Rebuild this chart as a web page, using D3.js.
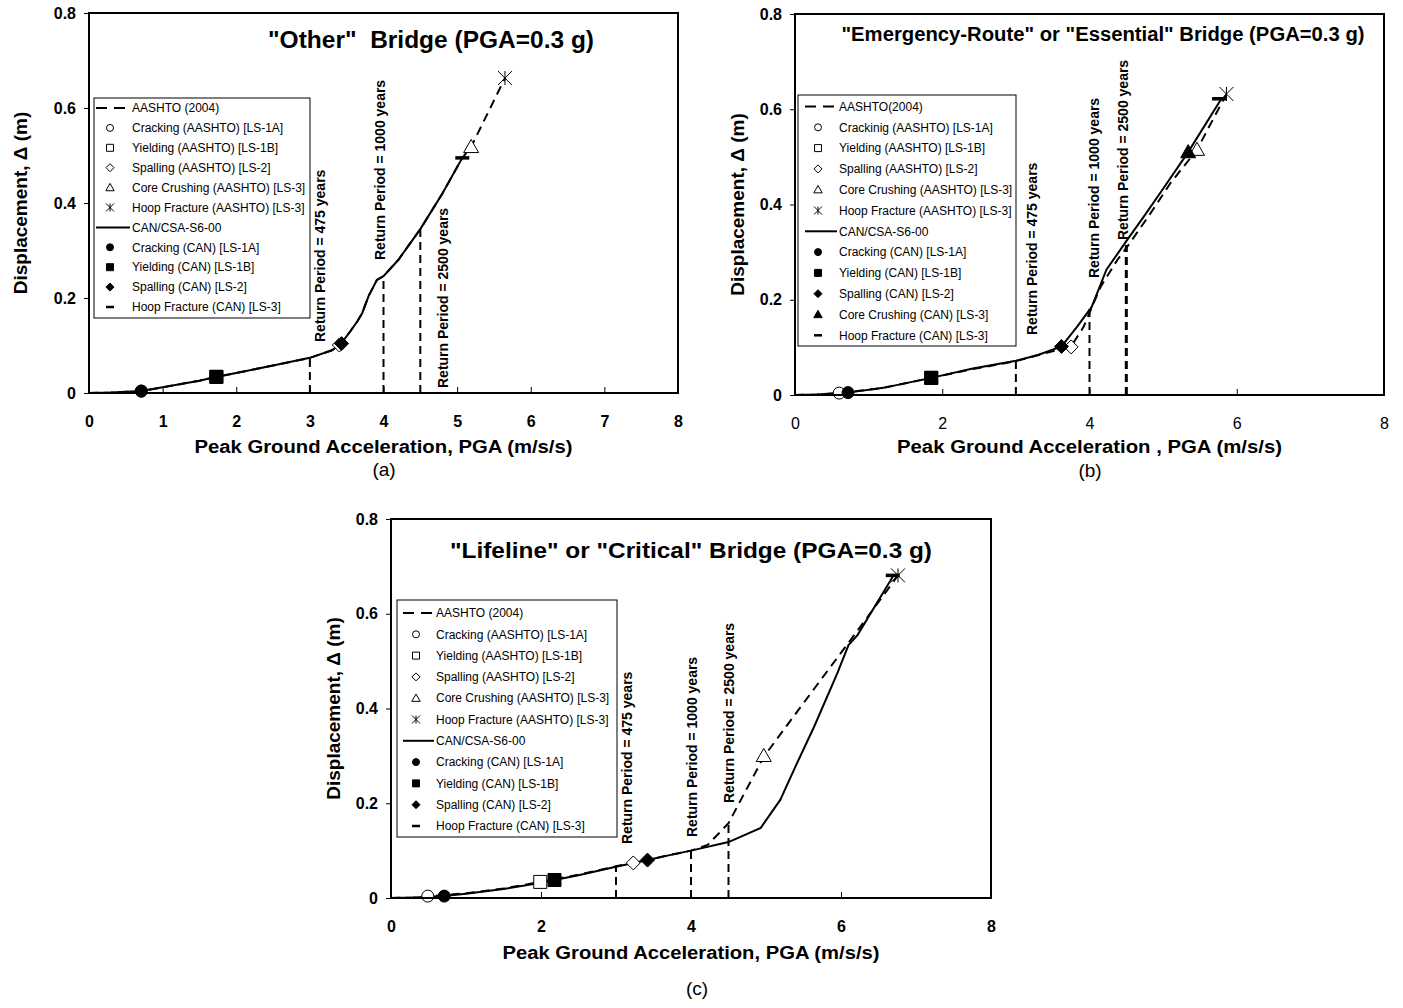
<!DOCTYPE html>
<html>
<head>
<meta charset="utf-8">
<title>Displacement vs PGA</title>
<script src="https://d3js.org/d3.v7.min.js"></script>
<style>
  body { margin: 0; background: #fff; }
  text { font-family: Arial, "Liberation Sans", sans-serif; fill: #000; }
</style>
</head>
<body>
<div id="chart"></div>
<script>
// ---- data (PGA m/s/s, displacement m) ----
var returnPeriods = [475, 1000, 2500];
var returnPga = [3, 4, 4.5];
var xTicks1 = [0, 1, 2, 3, 4, 5, 6, 7, 8];
var xTicks2 = [0, 2, 4, 6, 8];
var yTicks = [0, 0.2, 0.4, 0.6, 0.8];

// (a) "Other" bridge
var aCan = [[0,0],[0.3,0.001],[0.71,0.004],[1,0.012],[1.5,0.026],[1.73,0.034],[2,0.042],[2.5,0.058],[3,0.074],[3.3,0.09],[3.42,0.103],[3.55,0.13],[3.65,0.152],[3.71,0.168],[3.8,0.205],[3.91,0.238],[4,0.246],[4.2,0.28],[4.5,0.345],[4.8,0.42],[5.07,0.495]];
var aAashto = [[0,0],[0.3,0.001],[0.71,0.004],[1,0.012],[1.5,0.026],[1.73,0.034],[2,0.042],[2.5,0.058],[3,0.074],[3.3,0.09],[3.42,0.103],[3.55,0.13],[3.65,0.152],[3.71,0.168],[3.8,0.205],[3.91,0.238],[4,0.246],[4.2,0.28],[4.5,0.345],[4.8,0.42],[5.07,0.495],[5.19,0.518],[5.65,0.663]];
var aAashtoPts = [[0.71,0.004],[1.73,0.034],[3.4,0.101],[5.19,0.518],[5.65,0.663]];
var aCanPts = [[0.71,0.004],[1.73,0.034],[3.43,0.104],null,[5.07,0.495]];
var aTops = [0.074, 0.246, 0.345];
var aLegend = ["AASHTO (2004)", "Cracking (AASHTO) [LS-1A]", "Yielding (AASHTO) [LS-1B]", "Spalling (AASHTO) [LS-2]",
  "Core Crushing (AASHTO) [LS-3]", "Hoop Fracture (AASHTO) [LS-3]", "CAN/CSA-S6-00", "Cracking (CAN) [LS-1A]",
  "Yielding (CAN) [LS-1B]", "Spalling (CAN) [LS-2]", "Hoop Fracture (CAN) [LS-3]"];

// (b) "Emergency-Route" or "Essential" bridge
var bCan = [[0,0],[0.3,0.001],[0.72,0.005],[1.2,0.015],[1.85,0.036],[2.4,0.055],[3,0.072],[3.3,0.084],[3.62,0.102],[3.83,0.143],[4.03,0.185],[4.12,0.22],[4.23,0.263],[4.5,0.323],[4.73,0.373],[5,0.433],[5.34,0.51],[5.8,0.624]];
var bAashto = [[0,0],[0.3,0.001],[0.6,0.004],[1.2,0.015],[1.85,0.036],[2.4,0.054],[3,0.071],[3.4,0.088],[3.75,0.102],[3.92,0.143],[4.15,0.227],[4.38,0.284],[4.52,0.313],[4.8,0.375],[5.1,0.445],[5.46,0.515],[5.86,0.632]];
var bAashtoPts = [[0.6,0.004],[1.85,0.036],[3.75,0.101],[5.46,0.515],[5.86,0.632]];
var bCanPts = [[0.72,0.005],[1.85,0.036],[3.62,0.102],[5.34,0.51],[5.76,0.622]];
var bTops = [0.072, 0.185, 0.315];
var bLegend = ["AASHTO(2004)", "Crackinig (AASHTO) [LS-1A]", "Yielding (AASHTO) [LS-1B]", "Spalling (AASHTO) [LS-2]",
  "Core Crushing (AASHTO) [LS-3]", "Hoop Fracture (AASHTO) [LS-3]", "CAN/CSA-S6-00", "Cracking (CAN) [LS-1A]",
  "Yielding (CAN) [LS-1B]", "Spalling (CAN) [LS-2]", "Core Crushing (CAN) [LS-3]", "Hoop Fracture (CAN) [LS-3]"];

// (c) "Lifeline" or "Critical" bridge
var cCan = [[0,0],[0.3,0.001],[0.71,0.004],[1,0.009],[1.5,0.019],[2,0.032],[2.18,0.038],[2.5,0.048],[3,0.066],[3.42,0.08],[3.7,0.09],[4,0.1],[4.5,0.118],[4.93,0.148],[5.19,0.207],[5.4,0.28],[5.64,0.361],[5.95,0.474],[6.1,0.534],[6.22,0.555],[6.69,0.678]];
var cAashto = [[0,0],[0.3,0.001],[0.49,0.003],[1,0.01],[1.5,0.02],[1.99,0.034],[2.5,0.049],[3,0.067],[3.23,0.074],[3.7,0.09],[4,0.1],[4.22,0.112],[4.35,0.133],[4.5,0.158],[4.97,0.298],[5.46,0.403],[6.13,0.545],[6.76,0.681]];
var cAashtoPts = [[0.49,0.004],[1.99,0.034],[3.23,0.074],[4.97,0.3],[6.76,0.681]];
var cCanPts = [[0.71,0.004],[2.18,0.038],[3.42,0.08],null,[6.69,0.681]];
var cTops = [0.066, 0.1, 0.158];
var cLegend = aLegend;

var aashtoKinds = ["circle", "square", "diamond", "triangle", "asterisk"];
var canKinds = ["circle", "square", "diamond", "triangle", "dash"];

// ---- layout ----
var panels = [
  { left: 89, top: 13, w: 589, h: 380, xTicks: xTicks1, xBold: true,
    can: aCan, aashto: aAashto, canPts: aCanPts, aashtoPts: aAashtoPts, tops: aTops, legend: aLegend,
    title: '"Other"  Bridge (PGA=0.3 g)', titleX: 431, titleY: 48, titleSize: 23, titleLen: 326,
    xLabel: "Peak Ground Acceleration, PGA (m/s/s)", xLabelY: 453, xLabelLen: 378, yLabelX: 27,
    lab: [[320, 342], [380, 260], [443, 388]], rpWidth: [2, 2, 2],
    leg: { x: 94, y: 98, w: 216, h: 220, row0: 108, gap: 19.9, lx0: 96, lx1: 130, mx: 110, tx: 132 },
    letter: "(a)", letterX: 384, letterY: 476 },
  { left: 795, top: 14, w: 589, h: 381, xTicks: xTicks2, xBold: false,
    can: bCan, aashto: bAashto, canPts: bCanPts, aashtoPts: bAashtoPts, tops: bTops, legend: bLegend,
    title: '"Emergency-Route" or "Essential" Bridge (PGA=0.3 g)', titleX: 1103, titleY: 41, titleSize: 20, titleLen: 523,
    xLabel: "Peak Ground Acceleration , PGA (m/s/s)", xLabelY: 453, xLabelLen: 385, yLabelX: 744,
    lab: [[1032, 335], [1094, 278], [1123, 240]], rpWidth: [2, 2, 3],
    leg: { x: 798, y: 95, w: 218, h: 251, row0: 106.5, gap: 20.8, lx0: 805, lx1: 837, mx: 818, tx: 839 },
    letter: "(b)", letterX: 1090, letterY: 477 },
  { left: 391, top: 519, w: 600, h: 379, xTicks: xTicks2, xBold: true,
    can: cCan, aashto: cAashto, canPts: cCanPts, aashtoPts: cAashtoPts, tops: cTops, legend: cLegend,
    title: '"Lifeline" or "Critical" Bridge (PGA=0.3 g)', titleX: 691, titleY: 558, titleSize: 22, titleLen: 482,
    xLabel: "Peak Ground Acceleration, PGA (m/s/s)", xLabelY: 959, xLabelLen: 377, yLabelX: 340,
    lab: [[627, 844], [692, 837], [729, 803]], rpWidth: [2, 2, 2],
    leg: { x: 397, y: 600, w: 220, h: 237, row0: 613, gap: 21.3, lx0: 403, lx1: 434, mx: 416, tx: 436 },
    letter: "(c)", letterX: 697, letterY: 995 }
];

var svg = d3.select("#chart").append("svg")
  .attr("width", 1403)
  .attr("height", 1008);

function markerPath(kind, s) {
  if (kind === "circle") return "M" + s + ",0A" + s + "," + s + " 0 1,1 " + (-s) + ",0A" + s + "," + s + " 0 1,1 " + s + ",0Z";
  if (kind === "square") return "M" + (-s) + "," + (-s) + "h" + 2 * s + "v" + 2 * s + "h" + (-2 * s) + "Z";
  if (kind === "diamond") return "M0," + (-s) + "L" + s + ",0L0," + s + "L" + (-s) + ",0Z";
  if (kind === "triangle") return "M0," + (-s) + "L" + s + "," + 0.75 * s + "L" + (-s) + "," + 0.75 * s + "Z";
  if (kind === "asterisk") return "M" + (-s) + "," + (-s) + "L" + s + "," + s + "M" + (-s) + "," + s + "L" + s + "," + (-s) + "M0," + (-s) + "L0," + s;
  if (kind === "dash") return "M" + (-s) + ",0h" + 2 * s;
  return "";
}

function drawMarker(g, kind, filled, cx, cy, s) {
  var p = g.append("path")
    .attr("d", markerPath(kind, s))
    .attr("transform", "translate(" + cx + "," + cy + ")");
  if (kind === "dash") {
    p.attr("fill", "none").attr("stroke", "#000").attr("stroke-width", s > 5 ? 3.5 : 2.5);
  } else if (kind === "asterisk") {
    p.attr("fill", "none").attr("stroke", "#000").attr("stroke-width", 1);
  } else {
    p.attr("fill", filled ? "#000" : "#fff").attr("stroke", "#000").attr("stroke-width", 1);
  }
}

var plotSize = { circle: 6, square: 6.5, diamond: 7, triangle: 7.5, asterisk: 7, dash: 7 };
var legSize = { circle: 3.5, square: 3.5, diamond: 4, triangle: 4.2, asterisk: 4, dash: 4 };

function drawPanel(p) {
  var x = d3.scaleLinear().domain([0, 8]).range([p.left, p.left + p.w]);
  var y = d3.scaleLinear().domain([0, 0.8]).range([p.top + p.h, p.top]);
  var g = svg.append("g");

  // axes
  var xa = g.append("g")
    .attr("transform", "translate(0," + (p.top + p.h) + ")")
    .call(d3.axisBottom(x).tickValues(p.xTicks).tickSizeInner(-6).tickSizeOuter(0).tickPadding(23)
      .tickFormat(d3.format("d")));
  xa.select(".domain").remove();
  xa.selectAll("line").attr("stroke", "#000").attr("stroke-width", 1);
  xa.selectAll("text").attr("font-size", 16).attr("font-weight", p.xBold ? "bold" : "normal")
    .style("font-family", "Arial, 'Liberation Sans', sans-serif");

  var ya = g.append("g")
    .attr("transform", "translate(" + p.left + ",0)")
    .call(d3.axisLeft(y).tickValues(yTicks).tickSizeInner(5).tickSizeOuter(0).tickPadding(8)
      .tickFormat(function (d) { return d === 0 ? "0" : d3.format(".1f")(d); }));
  ya.select(".domain").remove();
  ya.selectAll("line").attr("stroke", "#000").attr("stroke-width", 1);
  ya.selectAll("text").attr("font-size", 16).attr("font-weight", "bold")
    .style("font-family", "Arial, 'Liberation Sans', sans-serif");

  // return period lines
  returnPga.forEach(function (v, i) {
    g.append("line")
      .attr("x1", x(v)).attr("x2", x(v))
      .attr("y1", y(0)).attr("y2", y(p.tops[i]))
      .attr("stroke", "#000").attr("stroke-width", p.rpWidth[i])
      .attr("stroke-dasharray", "8,5");
    g.append("text")
      .attr("transform", "translate(" + p.lab[i][0] + "," + p.lab[i][1] + ") rotate(-90)")
      .attr("dy", "0.36em")
      .attr("font-size", 14).attr("font-weight", "bold")
      .text("Return Period = " + returnPeriods[i] + " years");
  });

  // curves
  var line = d3.line().x(function (d) { return x(d[0]); }).y(function (d) { return y(d[1]); });
  g.append("path").datum(p.aashto).attr("d", line)
    .attr("fill", "none").attr("stroke", "#000").attr("stroke-width", 2)
    .attr("stroke-dasharray", "9,6");
  g.append("path").datum(p.can).attr("d", line)
    .attr("fill", "none").attr("stroke", "#000").attr("stroke-width", 2);

  // limit state markers
  p.aashtoPts.forEach(function (d, i) {
    if (d) drawMarker(g, aashtoKinds[i], false, x(d[0]), y(d[1]), plotSize[aashtoKinds[i]]);
  });
  p.canPts.forEach(function (d, i) {
    if (d) drawMarker(g, canKinds[i], true, x(d[0]), y(d[1]), plotSize[canKinds[i]]);
  });

  // frame
  g.append("rect")
    .attr("x", p.left).attr("y", p.top).attr("width", p.w).attr("height", p.h)
    .attr("fill", "none").attr("stroke", "#000").attr("stroke-width", 2);

  // legend
  var L = p.leg;
  var lg = g.append("g");
  lg.append("rect").attr("x", L.x).attr("y", L.y).attr("width", L.w).attr("height", L.h)
    .attr("fill", "#fff").attr("stroke", "#000").attr("stroke-width", 1);
  var rows = [{ line: "dash" }];
  aashtoKinds.forEach(function (k) { rows.push({ kind: k, filled: false }); });
  rows.push({ line: "solid" });
  p.canPts.forEach(function (d, i) { if (d) rows.push({ kind: canKinds[i], filled: true }); });
  rows.forEach(function (r, i) {
    var ry = L.row0 + i * L.gap;
    if (r.line) {
      lg.append("line").attr("x1", L.lx0).attr("x2", L.lx1).attr("y1", ry).attr("y2", ry)
        .attr("stroke", "#000").attr("stroke-width", 2)
        .attr("stroke-dasharray", r.line === "dash" ? "11,7" : null);
    } else {
      drawMarker(lg, r.kind, r.filled, L.mx, ry, legSize[r.kind]);
    }
    lg.append("text").attr("x", L.tx).attr("y", ry).attr("dy", "0.35em")
      .attr("font-size", 12).text(p.legend[i]);
  });

  // titles and labels
  g.append("text").attr("x", p.titleX).attr("y", p.titleY)
    .attr("text-anchor", "middle").attr("font-size", p.titleSize).attr("font-weight", "bold")
    .attr("textLength", p.titleLen).attr("lengthAdjust", "spacingAndGlyphs")
    .style("white-space", "pre")
    .text(p.title);
  g.append("text").attr("x", p.left + p.w / 2).attr("y", p.xLabelY)
    .attr("text-anchor", "middle").attr("font-size", 18).attr("font-weight", "bold")
    .attr("textLength", p.xLabelLen).attr("lengthAdjust", "spacingAndGlyphs")
    .text(p.xLabel);
  g.append("text")
    .attr("transform", "translate(" + p.yLabelX + "," + (p.top + p.h / 2) + ") rotate(-90)")
    .attr("text-anchor", "middle").attr("font-size", 19).attr("font-weight", "bold")
    .text("Displacement, \u0394 (m)");
  svg.append("text").attr("x", p.letterX).attr("y", p.letterY)
    .attr("text-anchor", "middle").attr("font-size", 19)
    .text(p.letter);
}

panels.forEach(drawPanel);
</script>
</body>
</html>
